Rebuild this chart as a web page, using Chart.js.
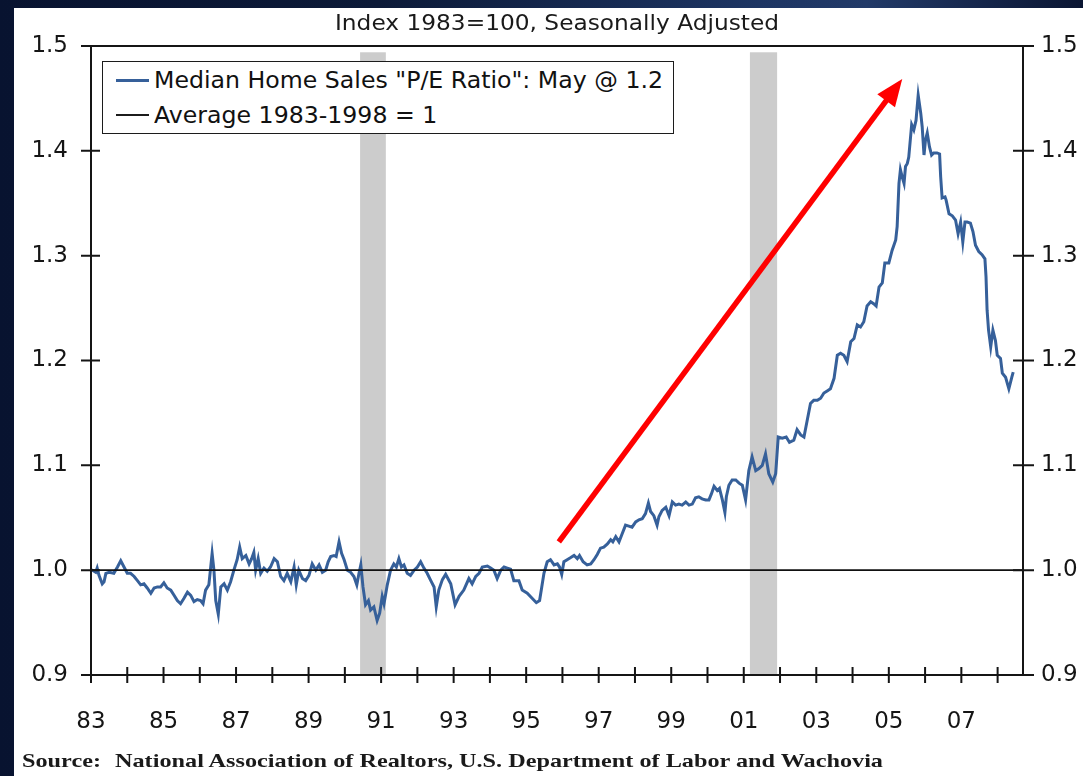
<!DOCTYPE html>
<html>
<head>
<meta charset="utf-8">
<script src="https://cdn.jsdelivr.net/npm/chart.js@4.4.1/dist/chart.umd.min.js"></script>
<style>
html,body{margin:0;padding:0;}
body{width:1083px;height:776px;overflow:hidden;position:relative;
  background:linear-gradient(90deg,#081330 0%,#0c1a38 35%,#1d3563 70%,#223a68 80%,#0a1532 100%);
  font-family:"DejaVu Sans",sans-serif;}
#panel{position:absolute;left:14px;top:8px;width:1069px;height:768px;background:#ffffff;}
#chartBox{position:absolute;left:0;top:0;width:1083px;height:776px;}
.txt{position:absolute;white-space:nowrap;transform-origin:0 50%;color:#111;line-height:1;}
#legendBox{position:absolute;left:102px;top:61px;width:570px;height:71px;border:1.6px solid #1c1c1c;background:#fff;}
.swatch{position:absolute;}
</style>
</head>
<body>
<div id="panel"></div>
<div id="chartBox"><canvas id="c" width="1083" height="776"></canvas></div>
<div id="legendBox"></div>
<div class="swatch" style="left:116px;top:78.5px;width:33px;height:3px;background:#36609a;"></div>
<div class="swatch" style="left:116px;top:114px;width:33px;height:1.6px;background:#1c1c1c;"></div>
<div class="txt" id="title" style="font-size:21px;color:#1a1a1a;">Index 1983=100, Seasonally Adjusted</div>
<div class="txt" id="leg1" style="font-size:22.5px;">Median Home Sales "P/E Ratio": May @ 1.2</div>
<div class="txt" id="leg2" style="font-size:22.5px;">Average 1983-1998 = 1</div>
<div class="txt" id="src1" style="font-family:'Liberation Serif',serif;font-weight:bold;font-size:19.5px;color:#1a1a1a;">Source:</div>
<div class="txt" id="src2" style="font-family:'Liberation Serif',serif;font-weight:bold;font-size:19.5px;color:#1a1a1a;">National Association of Realtors, U.S. Department of Labor and Wachovia</div>
<script>
// ---- Data ----
const dates = [
1983.00,1983.04,1983.13,1983.17,1983.22,1983.31,1983.36,1983.41,1983.50,1983.63,1983.73,1983.82,1983.91,
1984.00,1984.09,1984.19,1984.28,1984.37,1984.46,1984.55,1984.65,1984.74,1984.83,1984.92,
1985.01,1985.10,1985.20,1985.29,1985.38,1985.47,1985.56,1985.66,1985.75,1985.84,1985.93,
1986.02,1986.09,1986.16,1986.25,1986.34,1986.39,1986.44,1986.51,1986.58,1986.67,1986.76,1986.85,1986.94,
1987.03,1987.10,1987.17,1987.27,1987.36,1987.43,1987.49,1987.54,1987.61,1987.68,1987.77,1987.86,1987.95,
1988.05,1988.14,1988.23,1988.32,1988.41,1988.51,1988.60,1988.66,1988.73,1988.83,1988.92,
1989.01,1989.10,1989.20,1989.29,1989.38,1989.47,1989.54,1989.61,1989.70,1989.76,1989.84,1989.91,1989.98,
1990.07,1990.16,1990.25,1990.33,1990.39,1990.44,1990.50,1990.57,1990.65,1990.71,1990.80,1990.89,1990.96,
1991.03,1991.08,1991.17,1991.26,1991.35,1991.42,1991.49,1991.56,1991.63,1991.72,1991.81,1991.91,
1992.00,1992.09,1992.18,1992.27,1992.37,1992.46,1992.52,1992.59,1992.69,1992.78,1992.92,
1993.04,1993.15,1993.28,1993.42,1993.51,1993.61,1993.70,1993.79,1993.93,
1994.02,1994.11,1994.20,1994.30,1994.39,1994.48,1994.57,1994.66,1994.80,1994.89,
1995.03,1995.17,1995.28,1995.37,1995.43,1995.49,1995.58,1995.67,1995.77,1995.86,1995.92,1995.98,
1996.04,1996.13,1996.23,1996.32,1996.41,1996.47,1996.57,1996.68,1996.78,1996.87,1996.96,
1997.05,1997.14,1997.24,1997.33,1997.39,1997.47,1997.56,1997.65,1997.74,1997.83,1997.92,
1998.02,1998.11,1998.20,1998.29,1998.37,1998.43,1998.52,1998.61,1998.66,1998.75,1998.85,1998.94,
1999.03,1999.12,1999.21,1999.30,1999.40,1999.49,1999.58,1999.67,1999.76,1999.85,1999.95,
2000.04,2000.11,2000.18,2000.27,2000.33,2000.41,2000.48,2000.52,2000.59,2000.68,2000.78,2000.87,2000.96,
2001.05,2001.14,2001.23,2001.33,2001.42,2001.51,2001.60,2001.69,2001.80,2001.88,2001.95,
2002.06,2002.17,2002.26,2002.38,2002.47,2002.57,2002.66,2002.75,2002.84,2002.93,
2003.03,2003.12,2003.21,2003.30,2003.39,2003.49,2003.58,2003.67,2003.76,2003.85,2003.95,
2004.04,2004.13,2004.22,2004.31,2004.40,2004.50,2004.59,2004.65,2004.73,2004.82,2004.89,
2005.00,2005.09,2005.19,2005.23,2005.28,2005.32,2005.37,2005.42,2005.46,2005.51,2005.55,2005.63,2005.69,2005.75,2005.81,2005.88,2005.92,2005.97,
2006.01,2006.06,2006.12,2006.18,2006.24,2006.33,2006.40,2006.43,2006.47,2006.55,2006.58,2006.66,2006.75,2006.84,2006.91,2006.98,
2007.04,2007.10,2007.16,2007.25,2007.32,2007.39,2007.48,2007.57,2007.65,2007.68,2007.71,2007.75,2007.81,2007.87,2007.94,2007.99,
2008.08,2008.13,2008.22,2008.31,2008.39,2008.43
];
const ratio = [
1.000,1.000,0.998,1.002,0.995,0.987,0.989,0.997,0.998,0.997,1.003,1.009,1.003,
0.997,0.997,0.994,0.990,0.986,0.987,0.983,0.978,0.983,0.984,0.984,
0.988,0.983,0.981,0.976,0.971,0.968,0.973,0.979,0.976,0.970,0.972,
0.971,0.968,0.981,0.986,1.016,1.000,0.971,0.958,0.984,0.987,0.981,0.989,1.000,
1.010,1.022,1.011,1.014,1.006,1.011,1.017,1.000,1.011,0.997,1.002,0.999,1.003,
1.011,1.008,0.994,0.990,0.997,0.989,1.003,0.986,1.000,0.992,0.990,
0.995,1.006,1.000,1.005,0.998,1.000,1.008,1.013,1.014,1.013,1.027,1.016,1.010,
1.000,0.998,0.994,0.986,0.997,1.005,0.984,0.967,0.971,0.962,0.965,0.952,0.959,
0.975,0.968,0.986,1.000,1.006,1.003,1.011,1.003,1.005,0.997,0.995,1.000,
1.003,1.008,1.002,0.997,0.990,0.984,0.965,0.981,0.991,0.996,0.987,
0.967,0.975,0.981,0.992,0.987,0.994,0.997,1.003,1.004,
1.002,1.000,0.992,1.000,1.003,1.002,1.001,0.990,0.990,0.981,
0.978,0.973,0.969,0.971,0.984,0.997,1.008,1.010,1.005,1.006,1.003,0.996,
1.008,1.010,1.012,1.014,1.011,1.014,1.008,1.005,1.006,1.010,1.015,
1.021,1.022,1.025,1.029,1.027,1.032,1.027,1.035,1.043,1.042,1.041,
1.046,1.048,1.049,1.054,1.064,1.056,1.052,1.043,1.051,1.057,1.060,1.052,
1.065,1.062,1.063,1.062,1.065,1.062,1.063,1.069,1.070,1.068,1.067,
1.067,1.073,1.080,1.076,1.078,1.067,1.055,1.070,1.081,1.086,1.086,1.083,1.081,
1.067,1.095,1.108,1.095,1.097,1.100,1.111,1.092,1.084,1.092,1.127,
1.126,1.127,1.122,1.124,1.134,1.129,1.127,1.143,1.159,1.162,
1.162,1.164,1.169,1.171,1.173,1.183,1.205,1.207,1.205,1.199,1.218,
1.221,1.234,1.232,1.237,1.252,1.256,1.254,1.252,1.270,1.274,1.293,
1.293,1.305,1.315,1.328,1.369,1.382,1.375,1.369,1.385,1.388,1.394,1.425,1.420,1.429,1.453,1.436,1.423,1.396,
1.410,1.417,1.404,1.396,1.398,1.398,1.397,1.375,1.355,1.356,1.353,1.340,1.338,1.334,1.321,1.332,
1.313,1.332,1.332,1.331,1.323,1.310,1.304,1.301,1.297,1.280,1.248,1.229,1.213,1.229,1.219,1.205,
1.202,1.188,1.184,1.173,1.184,1.189
];
const averageValue = 1.0;
const xStart = 1983.0;
const xEnd = 2008.70;
const xTickYears = [1983,1984,1985,1986,1987,1988,1989,1990,1991,1992,1993,1994,1995,1996,1997,1998,1999,2000,2001,2002,2003,2004,2005,2006,2007,2008];
const xLabelYears = [1983,1985,1987,1989,1991,1993,1995,1997,1999,2001,2003,2005,2007];
const yTickValues = [0.9,1.0,1.1,1.2,1.3,1.4,1.5];
const recessionStarts = [1990.42, 2001.17];
const recessionEnds = [1991.13, 2001.92];
const recessionTop = 1.494;
const arrowFrom = [1995.90, 1.027];
const arrowTo = [2005.37, 1.4685];

// ---- Chart ----
const lineData = dates.map((d, i) => ({x: d, y: ratio[i]}));
const avgData = [{x: xStart, y: averageValue}, {x: xEnd, y: averageValue}];
const tickFont = {family: "'DejaVu Sans', sans-serif", size: 23};
const axisColor = '#151515';

const decor = {
  id: 'decor',
  beforeDatasetsDraw(chart) {
    const {ctx, chartArea: a, scales: {x, y}} = chart;
    ctx.save();
    ctx.fillStyle = '#cccccc';
    recessionStarts.forEach((s, i) => {
      const x0 = x.getPixelForValue(s), x1 = x.getPixelForValue(recessionEnds[i]);
      const yt = y.getPixelForValue(recessionTop);
      ctx.fillRect(x0, yt, x1 - x0, a.bottom - yt);
    });
    ctx.restore();
  },
  afterDatasetsDraw(chart) {
    const {ctx, chartArea: a, scales: {x, y}} = chart;
    ctx.save();
    ctx.strokeStyle = axisColor;
    ctx.lineWidth = 2;
    ctx.lineCap = 'butt';
    ctx.beginPath();
    ctx.moveTo(a.left, a.top); ctx.lineTo(a.right, a.top);
    ctx.moveTo(a.left, a.bottom); ctx.lineTo(a.right, a.bottom);
    ctx.moveTo(a.left, a.top); ctx.lineTo(a.left, a.bottom);
    ctx.moveTo(a.right, a.top); ctx.lineTo(a.right, a.bottom);
    yTickValues.forEach(v => {
      const py = y.getPixelForValue(v);
      ctx.moveTo(a.left - 10, py); ctx.lineTo(a.left + 9, py);
      ctx.moveTo(a.right - 10, py); ctx.lineTo(a.right + 11, py);
    });
    xTickYears.forEach(v => {
      const px = x.getPixelForValue(v);
      ctx.moveTo(px, a.bottom - 8); ctx.lineTo(px, a.bottom + 8);
    });
    ctx.stroke();

    // red arrow
    const x0 = x.getPixelForValue(arrowFrom[0]), y0 = y.getPixelForValue(arrowFrom[1]);
    const x1 = x.getPixelForValue(arrowTo[0]), y1 = y.getPixelForValue(arrowTo[1]);
    const ang = Math.atan2(y1 - y0, x1 - x0);
    const headLen = 27, headHalf = 11;
    const bx = x1 - headLen * Math.cos(ang), by = y1 - headLen * Math.sin(ang);
    ctx.strokeStyle = '#ff0000';
    ctx.fillStyle = '#ff0000';
    ctx.lineWidth = 5.5;
    ctx.beginPath();
    ctx.moveTo(x0, y0);
    ctx.lineTo(bx + 3 * Math.cos(ang), by + 3 * Math.sin(ang));
    ctx.stroke();
    ctx.beginPath();
    ctx.moveTo(x1, y1);
    ctx.lineTo(bx + headHalf * Math.sin(ang), by - headHalf * Math.cos(ang));
    ctx.lineTo(bx - headHalf * Math.sin(ang), by + headHalf * Math.cos(ang));
    ctx.closePath();
    ctx.fill();
    ctx.restore();
  }
};

new Chart(document.getElementById('c'), {
  type: 'line',
  data: {
    datasets: [
      {label: 'Average 1983-1998 = 1', data: avgData, borderColor: '#111111', borderWidth: 1.6,
       pointRadius: 0, fill: false, yAxisID: 'y'},
      {label: 'Median Home Sales "P/E Ratio": May @ 1.2', data: lineData, borderColor: '#36609a',
       borderWidth: 3, pointRadius: 0, fill: false, tension: 0, yAxisID: 'y'}
    ]
  },
  options: {
    responsive: false,
    animation: false,
    events: [],
    layout: {padding: {top: 46, left: 0, right: 0, bottom: 0}},
    plugins: {legend: {display: false}, tooltip: {enabled: false}, title: {display: false}},
    scales: {
      x: {
        type: 'linear', position: 'bottom', min: xStart, max: xEnd,
        afterBuildTicks: s => { s.ticks = xTickYears.map(v => ({value: v})); },
        afterFit: s => { s.height = 101; },
        grid: {display: false, drawTicks: false},
        border: {display: false},
        ticks: {
          autoSkip: false, maxRotation: 0, minRotation: 0, padding: 33,
          font: tickFont, color: axisColor,
          callback: v => xLabelYears.includes(v) ? String(v % 100).padStart(2, '0') : ''
        }
      },
      y: {
        position: 'left', min: 0.9, max: 1.5,
        afterBuildTicks: s => { s.ticks = yTickValues.map(v => ({value: v})); },
        afterFit: s => { s.width = 91; },
        grid: {display: false, drawTicks: false},
        border: {display: false},
        ticks: {padding: 23, font: tickFont, color: axisColor, callback: v => v.toFixed(1)}
      },
      y2: {
        position: 'right', min: 0.9, max: 1.5,
        afterBuildTicks: s => { s.ticks = yTickValues.map(v => ({value: v})); },
        afterFit: s => { s.width = 60; },
        grid: {display: false, drawTicks: false},
        border: {display: false},
        ticks: {padding: 18, font: tickFont, color: axisColor, callback: v => v.toFixed(1)}
      }
    }
  },
  plugins: [decor]
});

// ---- place and fit overlay texts ----
function place(id, left, cy, width, centerRatio, scaleOverride) {
  const el = document.getElementById(id);
  const fs = parseFloat(el.style.fontSize);
  el.style.left = left + 'px';
  el.style.top = (cy - centerRatio * fs) + 'px';
  const w = el.getBoundingClientRect().width;
  const sc = scaleOverride || (width ? width / w : 1);
  el.style.transform = 'scaleX(' + sc + ')';
  return sc;
}
place('title', 335, 23, 444, 0.48);
const legScale = place('leg1', 154, 80, 509, 0.48);
place('leg2', 154, 115, null, 0.48, legScale);
const srcScale = place('src2', 115, 761, 768, 0.5);
place('src1', 22, 761, null, 0.5, srcScale);
</script>
</body>
</html>
